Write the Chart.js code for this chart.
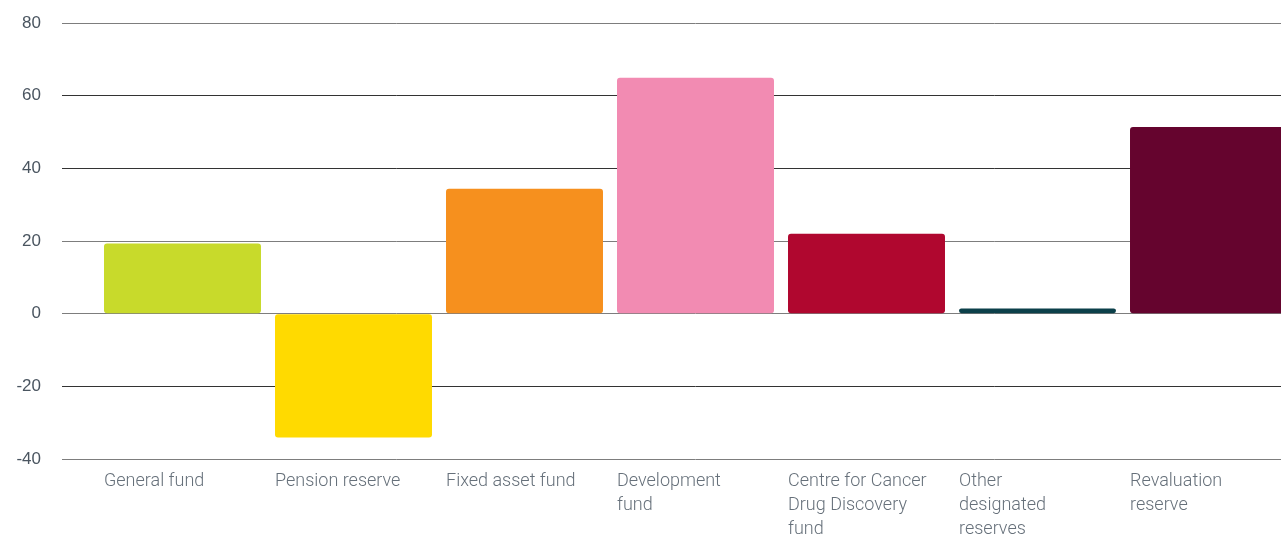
<!DOCTYPE html>
<html>
<head>
<meta charset="utf-8">
<script src="https://cdn.jsdelivr.net/npm/chart.js@4"></script>
<style>
  html, body { margin: 0; padding: 0; background: #fff; overflow: hidden; }
  #wrap { width: 1300px; height: 535px; }
</style>
</head>
<body>
<div id="wrap"><canvas id="reservesChart"></canvas></div>
<script>
const categories = [
    "General fund",
    "Pension reserve",
    "Fixed asset fund",
    ["Development", "fund"],
    ["Centre for Cancer", "Drug Discovery", "fund"],
    ["Other", "designated", "reserves"],
    ["Revaluation", "reserve"]
];
const reserveValues = [19.3, -34.1, 34.4, 64.9, 22.0, 1.4, 51.4];
const barColours = ["#c8da2b", "#ffda00", "#f6901e", "#f28bb2", "#b0072f", "#0c404a", "#65042e"];
const yTicks = [-40, -20, 0, 20, 40, 60, 80];

const ctx = document.getElementById("reservesChart").getContext("2d");

new Chart(ctx, {
    type: "bar",
    data: {
        labels: categories,
        datasets: [{
            data: reserveValues,
            backgroundColor: barColours,
            borderRadius: 3,
            borderSkipped: false,
            categoryPercentage: 1,
            barPercentage: 0.918
        }]
    },
    options: {
        responsive: true,
        maintainAspectRatio: false,
        animation: false,
        layout: { padding: { top: 23, right: 6, bottom: 0, left: 0 } },
        plugins: {
            legend: { display: false },
            tooltip: { enabled: false }
        },
        scales: {
            x: {
                offset: true,
                afterFit: axis => {
                    axis.height = 76;
                    axis.paddingLeft = 0;
                    axis.paddingRight = 0;
                },
                grid: { display: false, drawTicks: false },
                border: { display: false },
                ticks: {
                    align: "start",
                    labelOffset: -78.5,
                    padding: 10,
                    maxRotation: 0,
                    autoSkip: false,
                    color: "#66707a",
                    font: { family: "Roboto", size: 18, weight: 300, lineHeight: 1.34 }
                }
            },
            y: {
                min: -40,
                max: 80,
                afterBuildTicks: axis => { axis.ticks = yTicks.map(v => ({ value: v })); },
                afterFit: axis => {
                    axis.width = 97;
                    axis.paddingTop = 0;
                    axis.paddingBottom = 0;
                },
                grid: {
                    drawTicks: true,
                    tickLength: 35,
                    lineWidth: 1,
                    color: c => {
                        const v = c.tick ? c.tick.value : 0;
                        return [80, 20, 0, -40].includes(v) ? "#7d7d7d" : "#333333";
                    }
                },
                border: { display: false },
                ticks: {
                    padding: 21,
                    color: "#4a5560",
                    font: { family: "Liberation Sans", size: 17 }
                }
            }
        }
    }
});
</script>
</body>
</html>
